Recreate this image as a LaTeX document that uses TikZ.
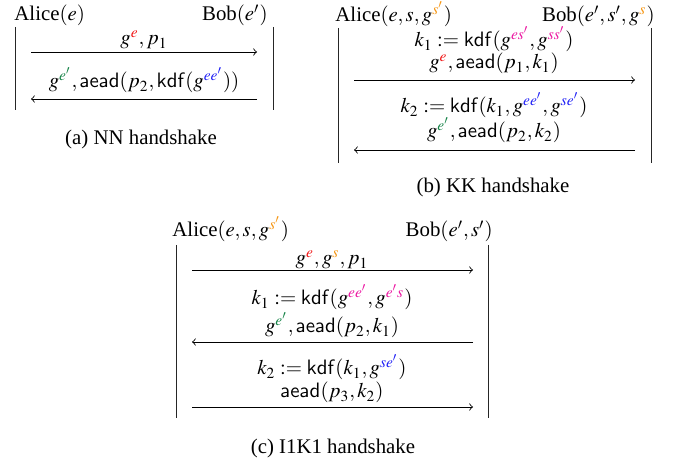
\documentclass[tikz,border=0pt]{standalone}
\usepackage{mathptmx}
\usepackage[no-math]{fontspec}
\setmainfont{Liberation Serif}
\definecolor{cred}{RGB}{240,20,20}
\definecolor{cgreen}{RGB}{20,130,70}
\definecolor{cblue}{RGB}{30,30,245}
\definecolor{cmag}{RGB}{235,20,160}
\definecolor{corange}{RGB}{245,150,20}
\newcommand{\kdf}{\mathsf{kdf}}
\newcommand{\aead}{\mathsf{aead}}
\tikzset{
  party/.style={inner sep=0pt, font=\fontsize{10}{12}\selectfont},
  msg/.style={inner sep=0pt, anchor=base, font=\fontsize{10}{12}\selectfont},
  capt/.style={inner sep=0pt, anchor=base, font=\fontsize{10}{12}\selectfont},
  lifeline/.style={line width=0.45pt, draw=black!85},
  arr/.style={->, line width=0.4pt},
}
\begin{document}
\begin{tikzpicture}[x=0.48pt, y=-0.48pt]
\useasboundingbox (0,0) rectangle (683,465);
% ---------- (a) NN ----------
\node[party, anchor=base west] (aA) at (14,21) {Alice$(e)$};
\node[party, anchor=base east] (aB) at (268,21) {Bob$(e')$};
\coordinate (aAt) at (15,27);  \coordinate (aAb) at (15,110);
\coordinate (aBt) at (273,27); \coordinate (aBb) at (273,110);
\draw[lifeline] (aAt) -- (aAb);
\draw[lifeline] (aBt) -- (aBb);
\coordinate (a1s) at (31,52);  \coordinate (a1e) at (257,52);
\coordinate (a2s) at (257,99); \coordinate (a2e) at (31,99);
\draw[arr] (a1s) -- (a1e);
\draw[arr] (a2s) -- (a2e);
\node[msg] (am1) at (144,45) {$g^{\textcolor{cred}{e}}, p_1$};
\node[msg] (am2) at (144,88) {$g^{\textcolor{cgreen}{e'}}, \aead(p_2, \kdf(g^{\textcolor{cblue}{ee'}}))$};
\node[capt] (acap) at (141,145) {(a) NN handshake};
% ---------- (b) KK ----------
\node[party, anchor=base west] (bA) at (335,22) {Alice$(e, s, g^{\textcolor{corange}{s'}})$};
\node[party, anchor=base east] (bB) at (655,22) {Bob$(e', s', g^{\textcolor{corange}{s}})$};
\coordinate (bAt) at (338,28);  \coordinate (bAb) at (338,163);
\coordinate (bBt) at (651,28);  \coordinate (bBb) at (651,163);
\draw[lifeline] (bAt) -- (bAb);
\draw[lifeline] (bBt) -- (bBb);
\coordinate (b1s) at (354,80);  \coordinate (b1e) at (635,80);
\coordinate (b2s) at (635,150); \coordinate (b2e) at (354,150);
\draw[arr] (b1s) -- (b1e);
\draw[arr] (b2s) -- (b2e);
\node[msg] (bm1a) at (494,47) {$k_1 := \kdf(g^{\textcolor{cmag}{es'}}, g^{\textcolor{cmag}{ss'}})$};
\node[msg] (bm1b) at (494,69) {$g^{\textcolor{cred}{e}}, \aead(p_1, k_1)$};
\node[msg] (bm2a) at (494,113) {$k_2 := \kdf(k_1, g^{\textcolor{cblue}{ee'}}, g^{\textcolor{cblue}{se'}})$};
\node[msg] (bm2b) at (494,138) {$g^{\textcolor{cgreen}{e'}}, \aead(p_2, k_2)$};
\node[capt] (bcap) at (493,193) {(b) KK handshake};
% ---------- (c) I1K1 ----------
\node[party, anchor=base west] (cA) at (172,237) {Alice$(e, s, g^{\textcolor{corange}{s'}})$};
\node[party, anchor=base east] (cB) at (493,237) {Bob$(e', s')$};
\coordinate (cAt) at (176,245);  \coordinate (cAb) at (176,418);
\coordinate (cBt) at (488,245);  \coordinate (cBb) at (488,418);
\draw[lifeline] (cAt) -- (cAb);
\draw[lifeline] (cBt) -- (cBb);
\coordinate (c1s) at (192,270);  \coordinate (c1e) at (473,270);
\coordinate (c2s) at (473,342);  \coordinate (c2e) at (192,342);
\coordinate (c3s) at (192,407);  \coordinate (c3e) at (473,407);
\draw[arr] (c1s) -- (c1e);
\draw[arr] (c2s) -- (c2e);
\draw[arr] (c3s) -- (c3e);
\node[msg] (cm1) at (332,265) {$g^{\textcolor{cred}{e}}, g^{\textcolor{corange}{s}}, p_1$};
\node[msg] (cm2a) at (332,305) {$k_1 := \kdf(g^{\textcolor{cmag}{ee'}}, g^{\textcolor{cmag}{e's}})$};
\node[msg] (cm2b) at (332,333) {$g^{\textcolor{cgreen}{e'}}, \aead(p_2, k_1)$};
\node[msg] (cm3a) at (332,375) {$k_2 := \kdf(k_1, g^{\textcolor{cblue}{se'}})$};
\node[msg] (cm3b) at (332,398) {$\aead(p_3, k_2)$};
\node[capt] (ccap) at (333,453) {(c) I1K1 handshake};
\end{tikzpicture}
\end{document}
